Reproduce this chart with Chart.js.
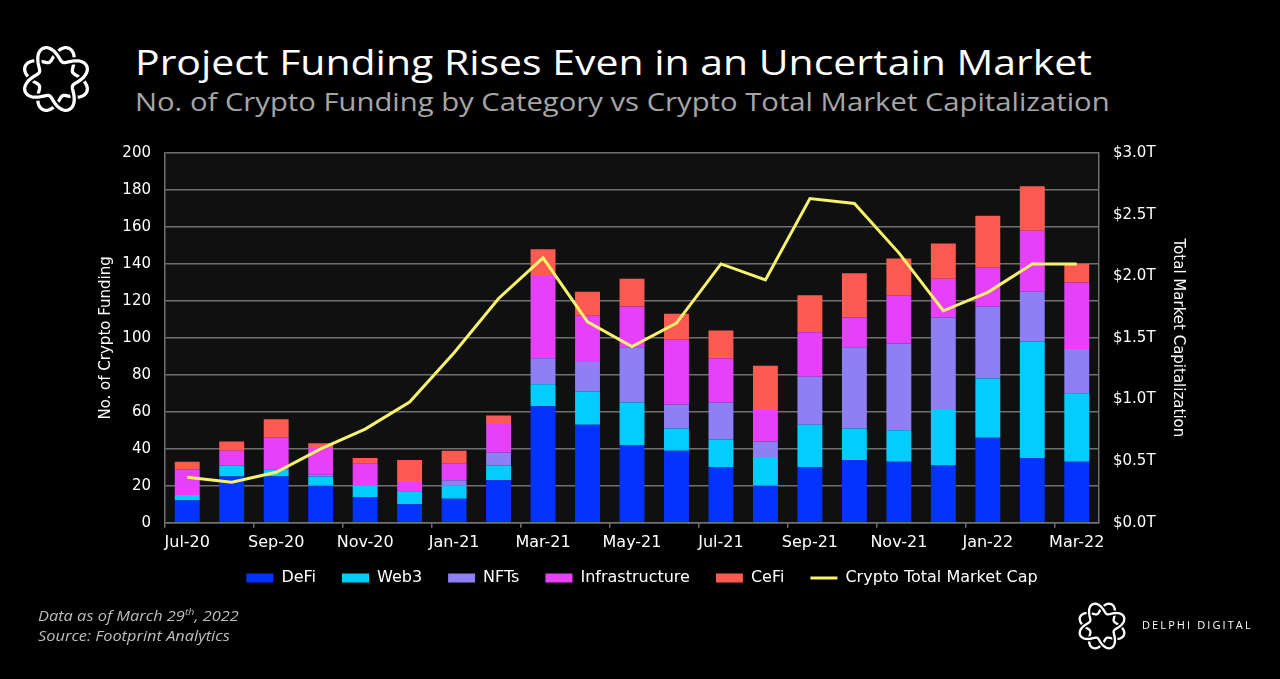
<!DOCTYPE html>
<html lang="en">
<head>
  <meta charset="UTF-8" />
  <title>Project Funding Rises Even in an Uncertain Market</title>
  <script src="https://cdn.jsdelivr.net/npm/chart.js"></script>
  <style>
    body {
      margin: 0;
      width: 1280px;
      height: 679px;
      background: #000;
      overflow: hidden;
      font-family: "Open Sans", sans-serif;
      position: relative;
    }
    .logo { position: absolute; }
    h1 {
      position: absolute;
      left: 135px;
      top: 38px;
      margin: 0;
      font-size: 35px;
      font-weight: 500;
      color: #fff;
      white-space: nowrap;
      transform: scaleX(1.17);
      transform-origin: left;
    }
    h2 {
      position: absolute;
      left: 135px;
      top: 84px;
      margin: 0;
      font-size: 25px;
      font-weight: 500;
      color: #a6a6a6;
      white-space: nowrap;
      transform: scaleX(1.17);
      transform-origin: left;
    }
    .chart-wrap {
      position: absolute;
      left: 0;
      top: 130px;
      width: 1280px;
      height: 479px;
    }
    .note {
      position: absolute;
      left: 38px;
      top: 602px;
      font-size: 14px;
      line-height: 20px;
      font-style: italic;
      color: #bdbdbd;
      transform: scaleX(1.17);
      transform-origin: left;
    }
    .note sup { font-size: 9px; }
    .brand {
      position: absolute;
      left: 1142px;
      top: 617px;
      font-size: 11px;
      letter-spacing: 2.1px;
      color: #fff;
    }
  </style>
</head>
<body>
  <svg class="logo" id="logoTop" style="left:20px;top:39px" width="72" height="80" viewBox="-35 -39 70 78"></svg>
  <h1>Project Funding Rises Even in an Uncertain Market</h1>
  <h2>No. of Crypto Funding by Category vs Crypto Total Market Capitalization</h2>

  <div class="chart-wrap"><canvas id="fundingChart"></canvas></div>

  <div class="note">Data as of March 29<sup>th</sup>, 2022<br>Source: Footprint Analytics</div>
  <svg class="logo" id="logoBottom" style="left:1076px;top:599px" width="52" height="54" viewBox="-35 -37 70 74"></svg>
  <div class="brand">DELPHI DIGITAL</div>

  <script>
    const months = ['Jul-20', 'Aug-20', 'Sep-20', 'Oct-20', 'Nov-20', 'Dec-20', 'Jan-21', 'Feb-21',
      'Mar-21', 'Apr-21', 'May-21', 'Jun-21', 'Jul-21', 'Aug-21', 'Sep-21', 'Oct-21', 'Nov-21',
      'Dec-21', 'Jan-22', 'Feb-22', 'Mar-22'];
    const defi  = [12, 25, 25, 20, 14, 10, 13, 23, 63, 53, 42, 39, 30, 20, 30, 34, 33, 31, 46, 35, 33];
    const web3  = [3, 6, 4, 5, 6, 7, 7, 8, 12, 18, 23, 12, 15, 15, 23, 17, 17, 30, 32, 63, 37];
    const nfts  = [0, 0, 0, 1, 0, 0, 3, 7, 14, 16, 30, 13, 20, 9, 26, 44, 47, 50, 39, 27, 24];
    const infra = [14, 8, 17, 15, 12, 5, 9, 16, 45, 25, 22, 35, 24, 17, 24, 16, 26, 21, 21, 33, 36];
    const cefi  = [4, 5, 10, 2, 3, 12, 7, 4, 14, 13, 15, 14, 15, 24, 20, 24, 20, 19, 28, 24, 10];
    // trillions USD
    const marketCap = [0.37, 0.33, 0.41, 0.60, 0.76, 0.98, 1.38, 1.82, 2.15, 1.63, 1.43, 1.62,
      2.10, 1.97, 2.63, 2.59, 2.19, 1.72, 1.87, 2.10, 2.10];

    // delphi knot logo: two woven wavy rings
    function drawLogo(id) {
      const svg = document.getElementById(id);
      let html = '';
      [0, Math.PI].forEach(phase => {
        let d = '';
        for (let i = 0; i <= 160; i++) {
          const t = i / 160 * Math.PI * 2;
          const r = 25 + 7.5 * Math.sin(4 * t + phase);
          d += (i ? 'L' : 'M') + (r * Math.cos(t)).toFixed(2) + ' ' + (r * Math.sin(t)).toFixed(2);
        }
        html += '<path d="' + d + 'Z" fill="none" stroke="#000" stroke-width="7"/>';
        html += '<path d="' + d + 'Z" fill="none" stroke="#fff" stroke-width="3.2"/>';
      });
      svg.innerHTML = html;
    }
    drawLogo('logoTop');
    drawLogo('logoBottom');

    const gridColor = '#707070';
    const tickFont = { family: 'DejaVu Sans', size: 15 };

    const plotBg = {
      id: 'plotBg',
      beforeDraw(chart) {
        const a = chart.chartArea;
        chart.ctx.save();
        chart.ctx.fillStyle = '#101010';
        chart.ctx.fillRect(a.left, a.top, a.right - a.left, a.bottom - a.top);
        chart.ctx.restore();
      }
    };

    // pull the legend row up a little closer to the month labels
    const legendUp = {
      id: 'legendUp',
      afterLayout(chart) {
        chart.legend.top -= 13;
        chart.legend.bottom -= 13;
      }
    };

    function bar(label, data, color) {
      return { type: 'bar', label, data, backgroundColor: color, yAxisID: 'y', order: 1,
        barPercentage: 0.56, categoryPercentage: 1 };
    }

    new Chart(document.getElementById('fundingChart'), {
      data: {
        labels: months,
        datasets: [
          bar('DeFi', defi, '#0433ff'),
          bar('Web3', web3, '#05ccff'),
          bar('NFTs', nfts, '#8e7ff5'),
          bar('Infrastructure', infra, '#e640fb'),
          bar('CeFi', cefi, '#fd5b52'),
          {
            type: 'line',
            label: 'Crypto Total Market Cap',
            data: marketCap,
            borderColor: '#f7f36a',
            backgroundColor: '#f7f36a',
            borderWidth: 3,
            pointRadius: 0,
            tension: 0,
            yAxisID: 'y1',
            order: 0
          }
        ]
      },
      options: {
        responsive: true,
        maintainAspectRatio: false,
        animation: false,
        layout: { padding: { left: 95, right: 91, top: 23, bottom: 0 } },
        plugins: {
          tooltip: { enabled: false },
          legend: {
            position: 'bottom',
            labels: {
              color: '#fff',
              font: { family: 'DejaVu Sans', size: 16 },
              usePointStyle: true,
              pointStyleWidth: 27,
              boxHeight: 9,
              padding: 26,
              sort: (a, b) => a.datasetIndex - b.datasetIndex,
              generateLabels(chart) {
                return Chart.defaults.plugins.legend.labels.generateLabels(chart).map(item => {
                  const isLine = chart.data.datasets[item.datasetIndex].type === 'line';
                  item.pointStyle = isLine ? 'line' : 'rect';
                  item.lineWidth = isLine ? 3 : 0;
                  return item;
                });
              }
            }
          }
        },
        scales: {
          x: {
            stacked: true,
            grid: {
              offset: true,
              drawOnChartArea: false,
              tickLength: 5,
              lineWidth: 1.5,
              color: c => (c.index % 2 === 0 ? gridColor : 'transparent')
            },
            border: { color: gridColor, width: 1.5 },
            ticks: {
              color: '#fff',
              font: { family: 'DejaVu Sans', size: 16 },
              autoSkip: false,
              maxRotation: 0,
              padding: 5,
              callback(v, i) { return i % 2 === 0 ? months[i] : ''; }
            }
          },
          y: {
            stacked: true,
            position: 'left',
            min: 0,
            max: 200,
            ticks: { stepSize: 20, color: '#fff', font: tickFont, padding: 14 },
            grid: { color: gridColor, lineWidth: 1.5, drawTicks: false },
            border: { color: gridColor, width: 1.5 },
            title: { display: true, text: 'No. of Crypto Funding', color: '#fff', font: tickFont, padding: 2 },
            afterFit(s) { s.width = 70; }
          },
          y1: {
            position: 'right',
            min: 0,
            max: 3,
            ticks: {
              stepSize: 0.5,
              color: '#fff',
              font: tickFont,
              padding: 14,
              callback(v) { return '$' + v.toFixed(1) + 'T'; }
            },
            grid: { drawOnChartArea: false, drawTicks: false },
            border: { color: gridColor, width: 1.5 },
            title: { display: true, text: 'Total Market Capitalization', color: '#fff', font: tickFont, padding: 2 },
            afterFit(s) { s.width = 90; }
          }
        }
      },
      plugins: [plotBg, legendUp]
    });
  </script>
</body>
</html>
